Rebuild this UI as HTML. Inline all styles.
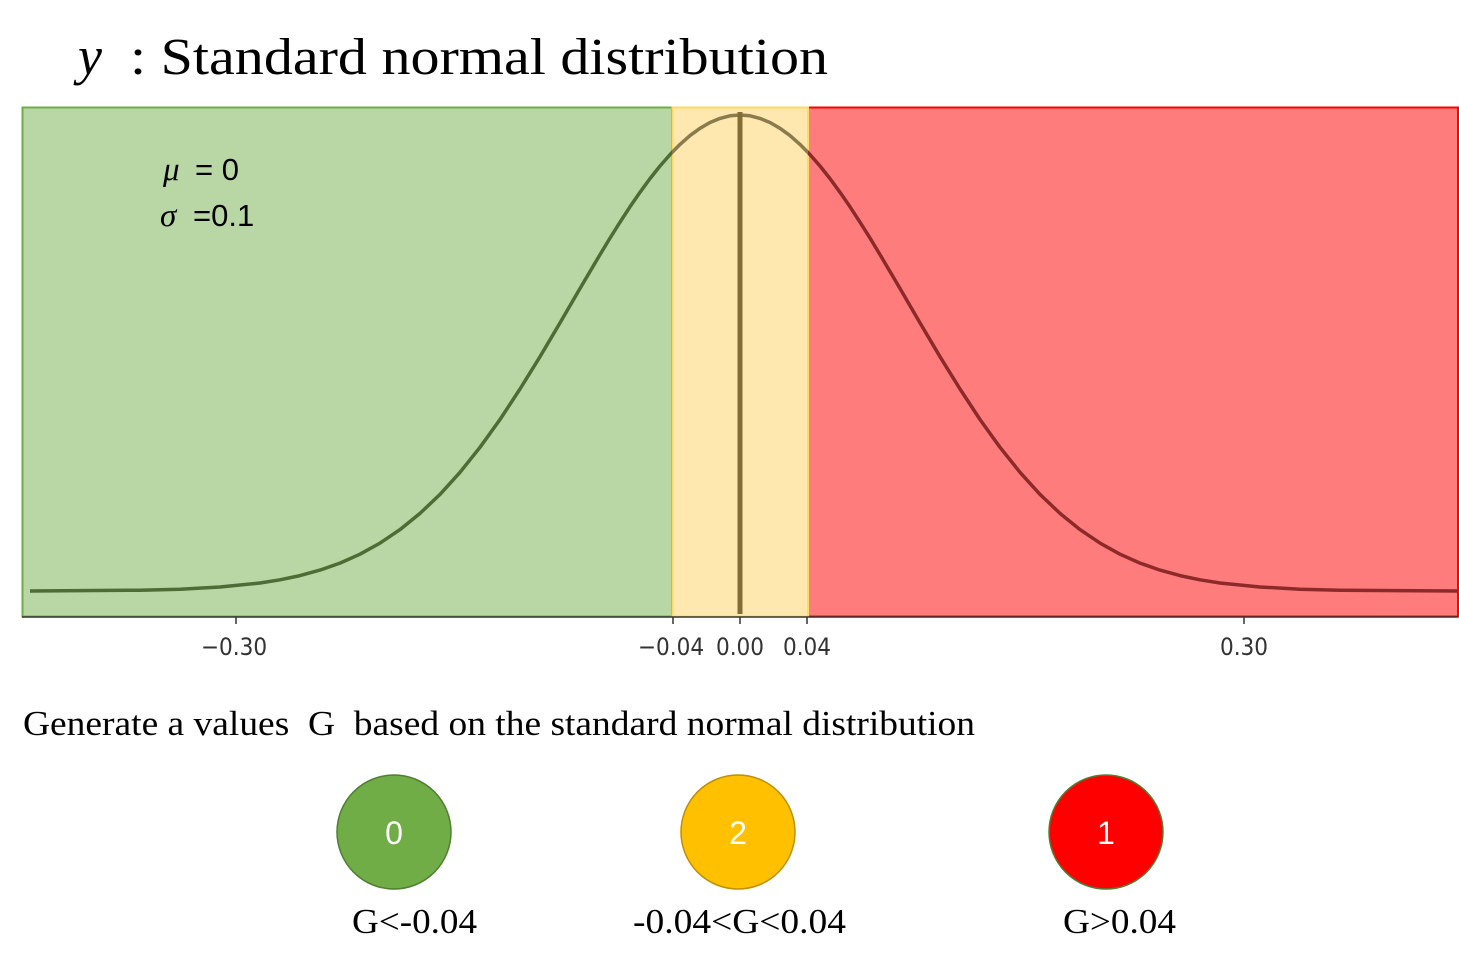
<!DOCTYPE html>
<html><head><meta charset="utf-8"><style>
html,body{margin:0;padding:0;background:#fff;}
svg{display:block;}
</style></head><body>
<svg width="1459" height="966" viewBox="0 0 1459 966" xmlns="http://www.w3.org/2000/svg">
<defs>
<clipPath id="cg"><rect x="22" y="100" width="650" height="520"/></clipPath>
<clipPath id="cy"><rect x="672" y="100" width="136" height="520"/></clipPath>
<clipPath id="cr"><rect x="808" y="100" width="651" height="520"/></clipPath>
<polyline id="curve" fill="none" stroke-width="3.5" stroke-linejoin="round" points="30,591 140,590.2 180,589.2 220,587 260,583 280,579.8 300,575.6 320,570.1 340,563.1 360,554.2 380,543.1 400,529.6 420,513.4 440,494.4 460,472.3 480,447.3 500,419.5 520,389 540,356.7 560,322.9 580,288.5 600,254.6 610,238.1 620,222.2 630,206.8 640,192.3 650,178.6 660,166 670,154.6 680,144.4 690,135.6 700,128.3 710,122.5 720,118.4 730,115.8 740,115 750,115.8 760,118.4 770,122.5 780,128.3 790,135.6 800,144.4 810,154.6 820,166 830,178.6 840,192.3 850,206.8 860,222.2 870,238.1 880,254.6 900,288.5 920,322.9 940,356.7 960,389 980,419.5 1000,447.3 1020,472.3 1040,494.4 1060,513.4 1080,529.6 1100,543.1 1120,554.2 1140,563.1 1160,570.1 1180,575.6 1200,579.8 1220,583 1260,587 1300,589.2 1340,590.2 1458,591"/>
</defs>
<text x="78" y="74" font-family="Liberation Serif, serif" font-size="54" font-style="italic">y</text>
<text x="130" y="74" font-family="Liberation Serif, serif" font-size="52" textLength="698" lengthAdjust="spacingAndGlyphs">: Standard normal distribution</text>
<rect x="22.5" y="107.5" width="649.5" height="509" fill="#b9d6a5" stroke="#70ad47" stroke-width="2"/>
<rect x="808" y="107.5" width="650" height="509" fill="#ff7c7c" stroke="#ff0000" stroke-width="2"/>
<rect x="672.5" y="107.5" width="135.5" height="509" fill="#ffe8b0" stroke="#ffd966" stroke-width="2"/>
<use href="#curve" stroke="#4e6c36" clip-path="url(#cg)"/>
<use href="#curve" stroke="#8a7b4c" clip-path="url(#cy)"/>
<use href="#curve" stroke="#8c2a2a" clip-path="url(#cr)"/>
<line x1="740" y1="112" x2="740" y2="614" stroke="#846c36" stroke-width="5"/>
<line x1="22" y1="617" x2="1458" y2="617" stroke="#333" stroke-width="1.5"/>
<g stroke="#333" stroke-width="1.5">
<line x1="236" y1="617" x2="236" y2="624"/><line x1="673" y1="617" x2="673" y2="624"/>
<line x1="740" y1="617" x2="740" y2="624"/><line x1="807" y1="617" x2="807" y2="624"/>
<line x1="1244" y1="617" x2="1244" y2="624"/>
</g>
<g font-family="DejaVu Sans Condensed, DejaVu Sans, sans-serif" font-size="24" fill="#333" text-anchor="middle">
<text x="234" y="655">−0.30</text><text x="671" y="655">−0.04</text>
<text x="740" y="655">0.00</text><text x="807" y="655">0.04</text>
<text x="1244" y="655">0.30</text>
</g>
<text x="163" y="180" font-family="Liberation Serif, serif" font-size="33" font-style="italic">μ</text>
<text x="195" y="180" font-family="Liberation Sans, sans-serif" font-size="31">= 0</text>
<text x="160" y="226" font-family="Liberation Serif, serif" font-size="33" font-style="italic">σ</text>
<text x="193" y="226" font-family="Liberation Sans, sans-serif" font-size="31">=0.1</text>
<text x="23" y="735" font-family="Liberation Serif, serif" font-size="35" textLength="952" lengthAdjust="spacingAndGlyphs" xml:space="preserve">Generate a values  G  based on the standard normal distribution</text>
<circle cx="394" cy="832" r="57" fill="#70ad47" stroke="#507e32" stroke-width="1.5"/>
<circle cx="738" cy="832" r="57" fill="#ffc000" stroke="#bf9000" stroke-width="1.5"/>
<circle cx="1106" cy="832" r="57" fill="#ff0000" stroke="#507e32" stroke-width="1.5"/>
<g font-family="Liberation Sans, sans-serif" font-size="32" fill="#fff" text-anchor="middle">
<text x="394" y="844">0</text><text x="738" y="844">2</text><text x="1106" y="844">1</text>
</g>
<g font-family="Liberation Serif, serif" font-size="35">
<text x="352" y="933" textLength="125" lengthAdjust="spacingAndGlyphs">G&lt;-0.04</text>
<text x="633" y="933" textLength="213" lengthAdjust="spacingAndGlyphs">-0.04&lt;G&lt;0.04</text>
<text x="1063" y="933" textLength="113" lengthAdjust="spacingAndGlyphs">G&gt;0.04</text>
</g>
</svg>
</body></html>
